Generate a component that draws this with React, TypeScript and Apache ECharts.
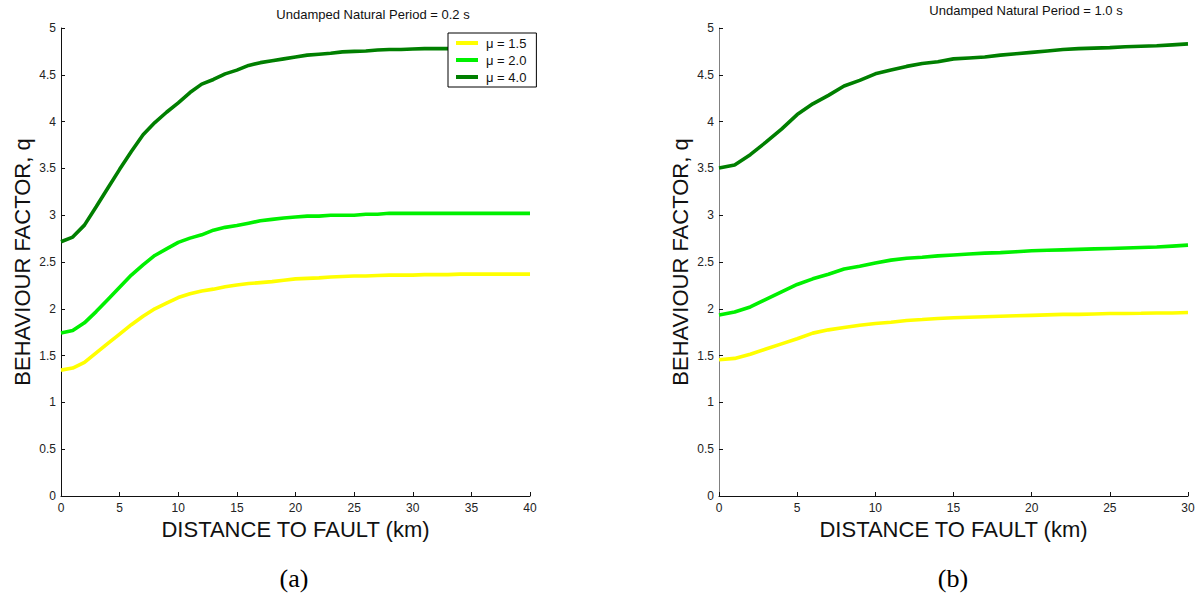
import React, { useEffect, useRef } from "react";
import * as echarts from "echarts";

const seriesNames = ["μ = 1.5", "μ = 2.0", "μ = 4.0"];
const seriesColors = ["#ffff00", "#00f000", "#007f00"];

// (a) Undamped Natural Period = 0.2 s
const distA = [0, 1, 2, 3, 4, 5, 6, 7, 8, 9, 10, 11, 12, 13, 14, 15, 16, 17, 18, 19, 20, 21, 22, 23, 24, 25, 26, 27, 28, 29, 30, 31, 32, 33, 34, 35, 36, 37, 38, 39, 40];
const qA15 = [1.345, 1.367, 1.427, 1.53, 1.63, 1.73, 1.83, 1.92, 2.0, 2.06, 2.12, 2.16, 2.19, 2.21, 2.235, 2.255, 2.27, 2.28, 2.29, 2.305, 2.32, 2.325, 2.33, 2.34, 2.345, 2.35, 2.35, 2.355, 2.36, 2.36, 2.36, 2.365, 2.365, 2.365, 2.37, 2.37, 2.37, 2.37, 2.37, 2.37, 2.37];
const qA20 = [1.742, 1.767, 1.85, 1.97, 2.1, 2.23, 2.36, 2.47, 2.57, 2.64, 2.71, 2.755, 2.79, 2.84, 2.87, 2.89, 2.915, 2.94, 2.955, 2.97, 2.98, 2.99, 2.99, 3.0, 3.0, 3.0, 3.01, 3.01, 3.02, 3.02, 3.02, 3.02, 3.02, 3.02, 3.02, 3.02, 3.02, 3.02, 3.02, 3.02, 3.02];
const qA40 = [2.716, 2.766, 2.894, 3.09, 3.29, 3.49, 3.68, 3.86, 3.99, 4.1, 4.2, 4.31, 4.4, 4.45, 4.51, 4.55, 4.6, 4.63, 4.65, 4.67, 4.69, 4.71, 4.72, 4.73, 4.745, 4.75, 4.755, 4.765, 4.77, 4.77, 4.775, 4.78, 4.78, 4.78, 4.78, 4.78, 4.78, 4.78, 4.78, 4.78, 4.78];

// (b) Undamped Natural Period = 1.0 s
const distB = [0, 1, 2, 3, 4, 5, 6, 7, 8, 9, 10, 11, 12, 13, 14, 15, 16, 17, 18, 19, 20, 21, 22, 23, 24, 25, 26, 27, 28, 29, 30];
const qB15 = [1.455, 1.47, 1.515, 1.57, 1.625, 1.68, 1.74, 1.775, 1.8, 1.825, 1.843, 1.857, 1.875, 1.885, 1.896, 1.904, 1.91, 1.915, 1.92, 1.925, 1.93, 1.935, 1.94, 1.94, 1.945, 1.95, 1.95, 1.952, 1.955, 1.955, 1.96];
const qB20 = [1.933, 1.965, 2.02, 2.1, 2.18, 2.26, 2.32, 2.37, 2.425, 2.455, 2.49, 2.52, 2.54, 2.55, 2.565, 2.575, 2.585, 2.595, 2.6, 2.61, 2.62, 2.625, 2.63, 2.635, 2.64, 2.645, 2.65, 2.655, 2.66, 2.67, 2.68];
const qB40 = [3.505, 3.537, 3.647, 3.78, 3.92, 4.075, 4.19, 4.28, 4.38, 4.44, 4.51, 4.55, 4.59, 4.62, 4.64, 4.67, 4.68, 4.69, 4.71, 4.725, 4.74, 4.755, 4.77, 4.78, 4.785, 4.79, 4.8, 4.805, 4.81, 4.82, 4.83];

const titleA = "Undamped Natural Period = 0.2 s";
const titleB = "Undamped Natural Period = 1.0 s";
const xName = "DISTANCE TO FAULT (km)";
const yName = "BEHAVIOUR FACTOR, q";

const SANS = "'Liberation Sans', Arial, Helvetica, sans-serif";
const SERIF = "'Liberation Serif', 'Times New Roman', serif";

function pairs(xs: number[], ys: number[]) {
  return xs.map((x, i) => [x, ys[i]]);
}

function xAxisFor(gridIndex: number, max: number) {
  return {
    type: "value",
    gridIndex,
    min: 0,
    max,
    interval: 5,
    name: xName,
    nameLocation: "middle",
    nameGap: 20,
    nameTextStyle: { fontFamily: SANS, fontSize: 22, color: "#111" },
    axisLine: { show: true, onZero: false, lineStyle: { color: "#111", width: 1 } },
    axisTick: { show: true, inside: true, length: 4, lineStyle: { color: "#111" } },
    axisLabel: { fontFamily: SANS, fontSize: 12, color: "#222", margin: 6 },
    splitLine: { show: false },
  };
}

function yAxisFor(gridIndex: number, lineColor: string) {
  return {
    type: "value",
    gridIndex,
    min: 0,
    max: 5,
    interval: 0.5,
    name: yName,
    nameLocation: "middle",
    nameGap: 28,
    nameRotate: 90,
    nameTextStyle: { fontFamily: SANS, fontSize: 22, color: "#111" },
    axisLine: { show: true, onZero: false, lineStyle: { color: lineColor, width: 1 } },
    axisTick: { show: true, inside: true, length: 4, lineStyle: { color: "#111" } },
    axisLabel: { fontFamily: SANS, fontSize: 12, color: "#222", margin: 5 },
    splitLine: { show: false },
  };
}

function lineSeries(name: string, color: string, idx: number, data: number[][]) {
  return {
    type: "line",
    name,
    xAxisIndex: idx,
    yAxisIndex: idx,
    data,
    showSymbol: false,
    symbol: "none",
    smooth: false,
    lineStyle: { color, width: 3.6 },
    itemStyle: { color },
    z: 2,
  };
}

export default function App() {
  const ref = useRef<HTMLDivElement>(null);

  useEffect(() => {
    document.body.style.margin = "0";
    if (!ref.current) return;
    const chart = echarts.init(ref.current, undefined, { renderer: "svg" });
    const option = {
      animation: false,
      backgroundColor: "#ffffff",
      title: [
        { text: titleA, left: 373, top: 8, textAlign: "center", padding: 0, textStyle: { fontFamily: SANS, fontSize: 13, fontWeight: "normal", color: "#111" } },
        { text: titleB, left: 1026, top: 4, textAlign: "center", padding: 0, textStyle: { fontFamily: SANS, fontSize: 13, fontWeight: "normal", color: "#111" } },
        { text: "(a)", left: 294, top: 565, textAlign: "center", padding: 0, textStyle: { fontFamily: SERIF, fontSize: 26, fontWeight: "normal", color: "#000" } },
        { text: "(b)", left: 953, top: 565, textAlign: "center", padding: 0, textStyle: { fontFamily: SERIF, fontSize: 26, fontWeight: "normal", color: "#000" } },
      ],
      legend: {
        show: true,
        orient: "vertical",
        left: 448,
        top: 33,
        data: seriesNames,
        icon: "rect",
        itemWidth: 22,
        itemHeight: 4,
        itemGap: 3,
        padding: [3, 10, 3, 8],
        borderColor: "#000",
        borderWidth: 1,
        borderRadius: 0,
        backgroundColor: "#ffffff",
        selectedMode: false,
        textStyle: { fontFamily: SANS, fontSize: 13, color: "#111", lineHeight: 14, padding: [0, 0, 0, 3] },
        z: 10,
      },
      grid: [
        { left: 61, top: 28, width: 469, height: 468, containLabel: false },
        { left: 719, top: 28, width: 469, height: 468, containLabel: false },
      ],
      xAxis: [xAxisFor(0, 40), xAxisFor(1, 30)],
      yAxis: [yAxisFor(0, "#111"), yAxisFor(1, "#808080")],
      series: [
        lineSeries(seriesNames[0], seriesColors[0], 0, pairs(distA, qA15)),
        lineSeries(seriesNames[1], seriesColors[1], 0, pairs(distA, qA20)),
        lineSeries(seriesNames[2], seriesColors[2], 0, pairs(distA, qA40)),
        lineSeries(seriesNames[0], seriesColors[0], 1, pairs(distB, qB15)),
        lineSeries(seriesNames[1], seriesColors[1], 1, pairs(distB, qB20)),
        lineSeries(seriesNames[2], seriesColors[2], 1, pairs(distB, qB40)),
      ],
    };
    chart.setOption(option as any);
    return () => {
      chart.dispose();
    };
  }, []);

  return (
    <div
      ref={ref}
      style={{ position: "absolute", left: 0, top: 0, width: 1198, height: 596 }}
    />
  );
}
